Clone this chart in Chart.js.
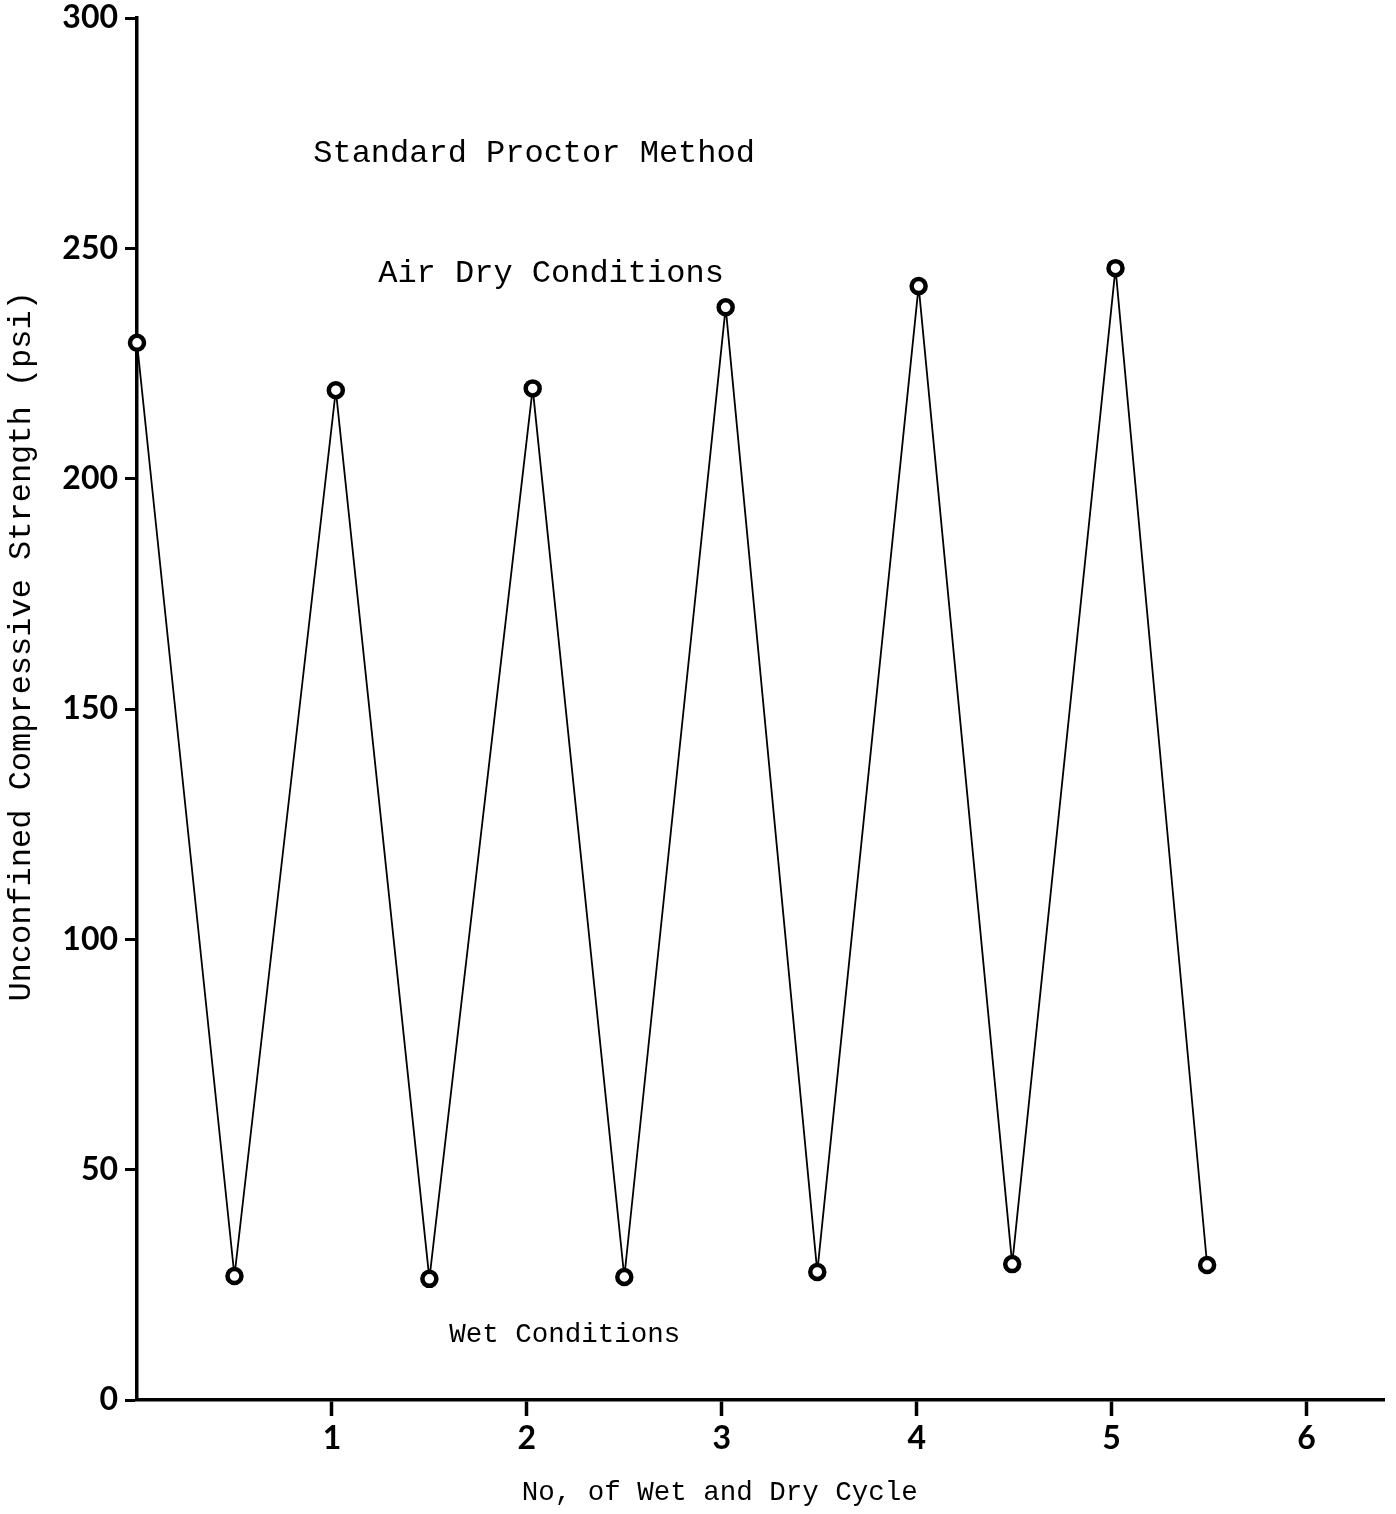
<!DOCTYPE html>
<html>
<head>
<meta charset="utf-8">
<script src="https://cdn.jsdelivr.net/npm/chart.js@4.4.0/dist/chart.umd.min.js"></script>
<style>
html,body{margin:0;padding:0;background:#fff;}
#wrap{width:1396px;height:1514px;}
</style>
</head>
<body>
<div id="wrap"><canvas id="c" width="1396" height="1514"></canvas></div>
<script>
// Data
const cycleX = [0, 0.5, 1.02, 1.5, 2.03, 2.5, 3.02, 3.49, 4.01, 4.49, 5.02, 5.49];
const strengthPsi = [229.5, 26.9, 219.2, 26.3, 219.6, 26.7, 237.2, 27.8, 241.8, 29.5, 245.7, 29.3];
const xTickValues = [1, 2, 3, 4, 5, 6];
const yTickValues = [0, 50, 100, 150, 200, 250, 300];
const xTitle = 'No, of Wet and Dry Cycle';
const yTitle = 'Unconfined Compressive Strength (psi)';
const noteTexts = ['Standard Proctor Method', 'Air Dry Conditions', 'Wet Conditions'];
const noteX = [2.037, 2.124, 2.195];
const noteY = [270.6, 244.6, 14.1];
const noteSizes = [32, 32, 27.5];

const points = cycleX.map((x, i) => ({x: x, y: strengthPsi[i]}));

const MONO = '"Liberation Mono", "DejaVu Sans Mono", monospace';

const notesPlugin = {
  id: 'notes',
  afterDraw(chart) {
    const ctx = chart.ctx;
    const xs = chart.scales.x, ys = chart.scales.y;
    ctx.save();
    ctx.fillStyle = '#000';
    ctx.textAlign = 'center';
    ctx.textBaseline = 'middle';
    noteTexts.forEach((t, i) => {
      ctx.font = noteSizes[i] + 'px ' + MONO;
      ctx.fillText(t, xs.getPixelForValue(noteX[i]), ys.getPixelForValue(noteY[i]));
    });
    // axis titles
    ctx.font = '27.5px ' + MONO;
    ctx.fillText(xTitle, xs.getPixelForValue(2.99), xs.bottom - 21);
    ctx.save();
    ctx.translate(ys.left + 22, ys.getPixelForValue(163.6));
    ctx.rotate(-Math.PI / 2);
    ctx.font = '32px ' + MONO;
    ctx.fillText(yTitle, 0, 0);
    ctx.restore();
    ctx.restore();
  }
};

new Chart(document.getElementById('c'), {
  type: 'line',
  data: {
    datasets: [{
      data: points,
      borderColor: '#000',
      borderWidth: 1.8,
      pointRadius: 7,
      pointBorderWidth: 4.5,
      pointBorderColor: '#000',
      pointBackgroundColor: '#fff',
      tension: 0,
      clip: false
    }]
  },
  options: {
    responsive: false,
    animation: false,
    layout: {padding: {top: 18, right: 8, left: 0, bottom: 0}},
    plugins: {legend: {display: false}, tooltip: {enabled: false}},
    scales: {
      x: {
        type: 'linear',
        min: 0, max: 6.4,
        afterFit(s) { s.height = 114; s.paddingLeft = 0; s.paddingRight = 0; },
        afterBuildTicks(s) { s.ticks = xTickValues.map(v => ({value: v})); },
        grid: {display: true, drawOnChartArea: false, drawTicks: true, tickLength: 16, tickWidth: 3.5, tickColor: '#000'},
        border: {display: true, width: 3.5, color: '#000'},
        ticks: {color: '#000', padding: 3, font: {family: 'Lato', weight: 'bold', size: 32}, maxRotation: 0, autoSkip: false},
        title: {display: false}
      },
      y: {
        type: 'linear',
        min: 0, max: 300,
        afterFit(s) { s.width = 137; s.paddingTop = 0; s.paddingBottom = 0; },
        afterBuildTicks(s) { s.ticks = yTickValues.map(v => ({value: v})); },
        grid: {display: true, drawOnChartArea: false, drawTicks: true, tickLength: 12, tickWidth: 3, tickColor: '#000'},
        border: {display: true, width: 3.5, color: '#000'},
        ticks: {color: '#000', padding: 7, font: {family: 'Lato', weight: 'bold', size: 32}, autoSkip: false},
        title: {display: false}
      }
    }
  },
  plugins: [notesPlugin]
});
</script>
</body>
</html>
